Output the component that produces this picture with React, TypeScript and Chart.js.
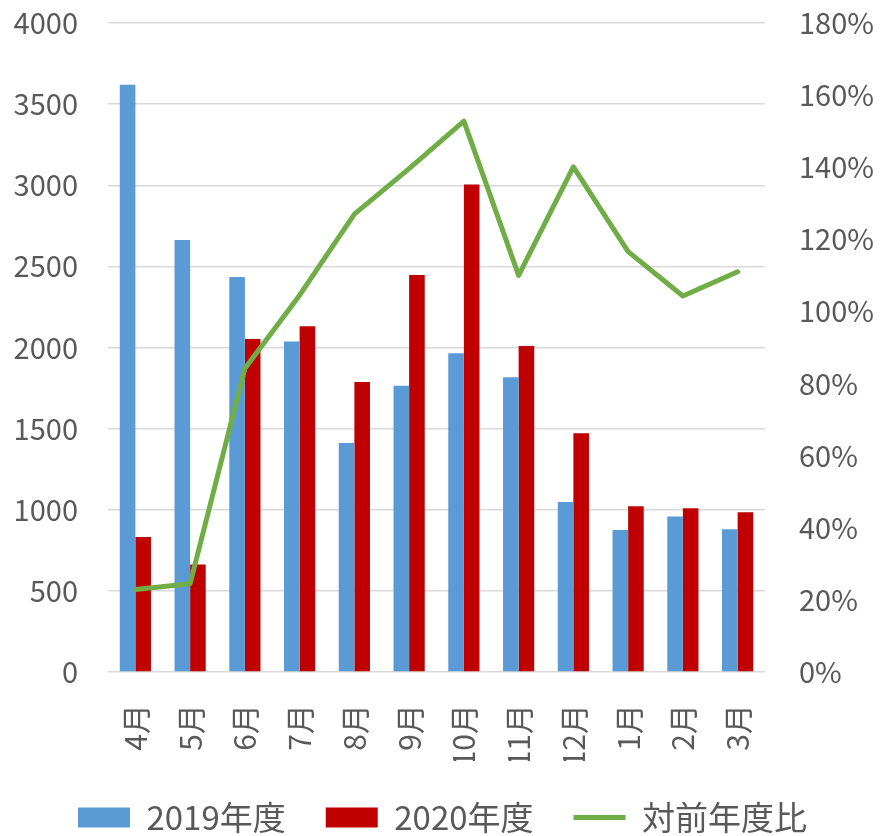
import React, { useEffect, useRef } from "react";
import { Chart, registerables } from "chart.js";

Chart.register(...registerables);

const months = ["4月", "5月", "6月", "7月", "8月", "9月", "10月", "11月", "12月", "1月", "2月", "3月"];
const sales2019 = [3620, 2663, 2434, 2037, 1411, 1765, 1965, 1817, 1047, 875, 958, 880];
const sales2020 = [832, 662, 2052, 2131, 1788, 2447, 3005, 2009, 1471, 1021, 1010, 985];
const yoyRatio = [22.9, 24.5, 84.2, 104.5, 127, 139.6, 152.8, 110, 140.1, 116.6, 104.3, 111];

const FONT = "'Noto Sans CJK JP', 'Noto Sans', sans-serif";
const GRAY = "#595959";

export default function App() {
  const ref = useRef<HTMLCanvasElement | null>(null);
  useEffect(() => {
    document.body.style.margin = "0";
    const canvas = ref.current;
    if (!canvas) return;
    const chart = new Chart(canvas, {
      type: "bar",
      data: {
        labels: months,
        datasets: [
          {
            type: "bar",
            label: "2019年度",
            data: sales2019,
            backgroundColor: "#5B9BD5",
            borderWidth: 0,
            yAxisID: "y",
            order: 1,
            pointStyle: "rect",
            categoryPercentage: 0.57,
            barPercentage: 1.0,
          } as any,
          {
            type: "bar",
            label: "2020年度",
            data: sales2020,
            backgroundColor: "#C00000",
            borderWidth: 0,
            yAxisID: "y",
            order: 1,
            pointStyle: "rect",
            categoryPercentage: 0.57,
            barPercentage: 1.0,
          } as any,
          {
            type: "line",
            label: "対前年度比",
            data: yoyRatio,
            borderColor: "#70AD47",
            backgroundColor: "#70AD47",
            borderWidth: 5,
            pointRadius: 0,
            tension: 0,
            borderCapStyle: "round",
            borderJoinStyle: "round",
            yAxisID: "y1",
            order: 0,
            pointStyle: "line",
          } as any,
        ],
      },
      options: {
        animation: false,
        responsive: false,
        maintainAspectRatio: false,
        layout: { padding: { top: 23, bottom: 0, left: 0, right: 0 } },
        plugins: {
          tooltip: { enabled: false },
          legend: {
            position: "bottom",
            maxHeight: 75,
            labels: {
              usePointStyle: true,
              pointStyleWidth: 52,
              boxHeight: 20,
              padding: 40,
              color: GRAY,
              font: { family: FONT, size: 33 },
              sort: (a: any, b: any) => a.datasetIndex - b.datasetIndex,
            },
          } as any,
        },
        scales: {
          x: {
            offset: true,
            grid: { display: false, drawTicks: false },
            border: { display: false },
            ticks: {
              color: GRAY,
              font: { family: FONT, size: 30 },
              maxRotation: 90,
              minRotation: 90,
              padding: 32,
              autoSkip: false,
            },
            afterFit: (s: any) => {
              s.height = 89;
            },
          },
          y: {
            position: "left",
            min: 0,
            max: 4000,
            ticks: {
              stepSize: 500,
              color: GRAY,
              font: { family: FONT, size: 29 },
              padding: 30,
              callback: (v: any) => String(v),
            },
            grid: { color: "#D9D9D9", lineWidth: 1.5, drawTicks: false },
            border: { display: false },
            afterFit: (s: any) => {
              s.width = 108;
              s.paddingTop = 0;
              s.paddingBottom = 0;
            },
          },
          y1: {
            position: "right",
            min: 0,
            max: 180,
            ticks: {
              stepSize: 20,
              color: GRAY,
              font: { family: FONT, size: 29 },
              padding: 34,
              callback: (v: any) => v + "%",
            },
            grid: { display: false, drawTicks: false },
            border: { display: false },
            afterFit: (s: any) => {
              s.width = 120;
              s.paddingTop = 0;
              s.paddingBottom = 0;
            },
          },
        },
      },
    });
    return () => chart.destroy();
  }, []);
  return <canvas ref={ref} width={885} height={836} style={{ display: "block" }} />;
}
